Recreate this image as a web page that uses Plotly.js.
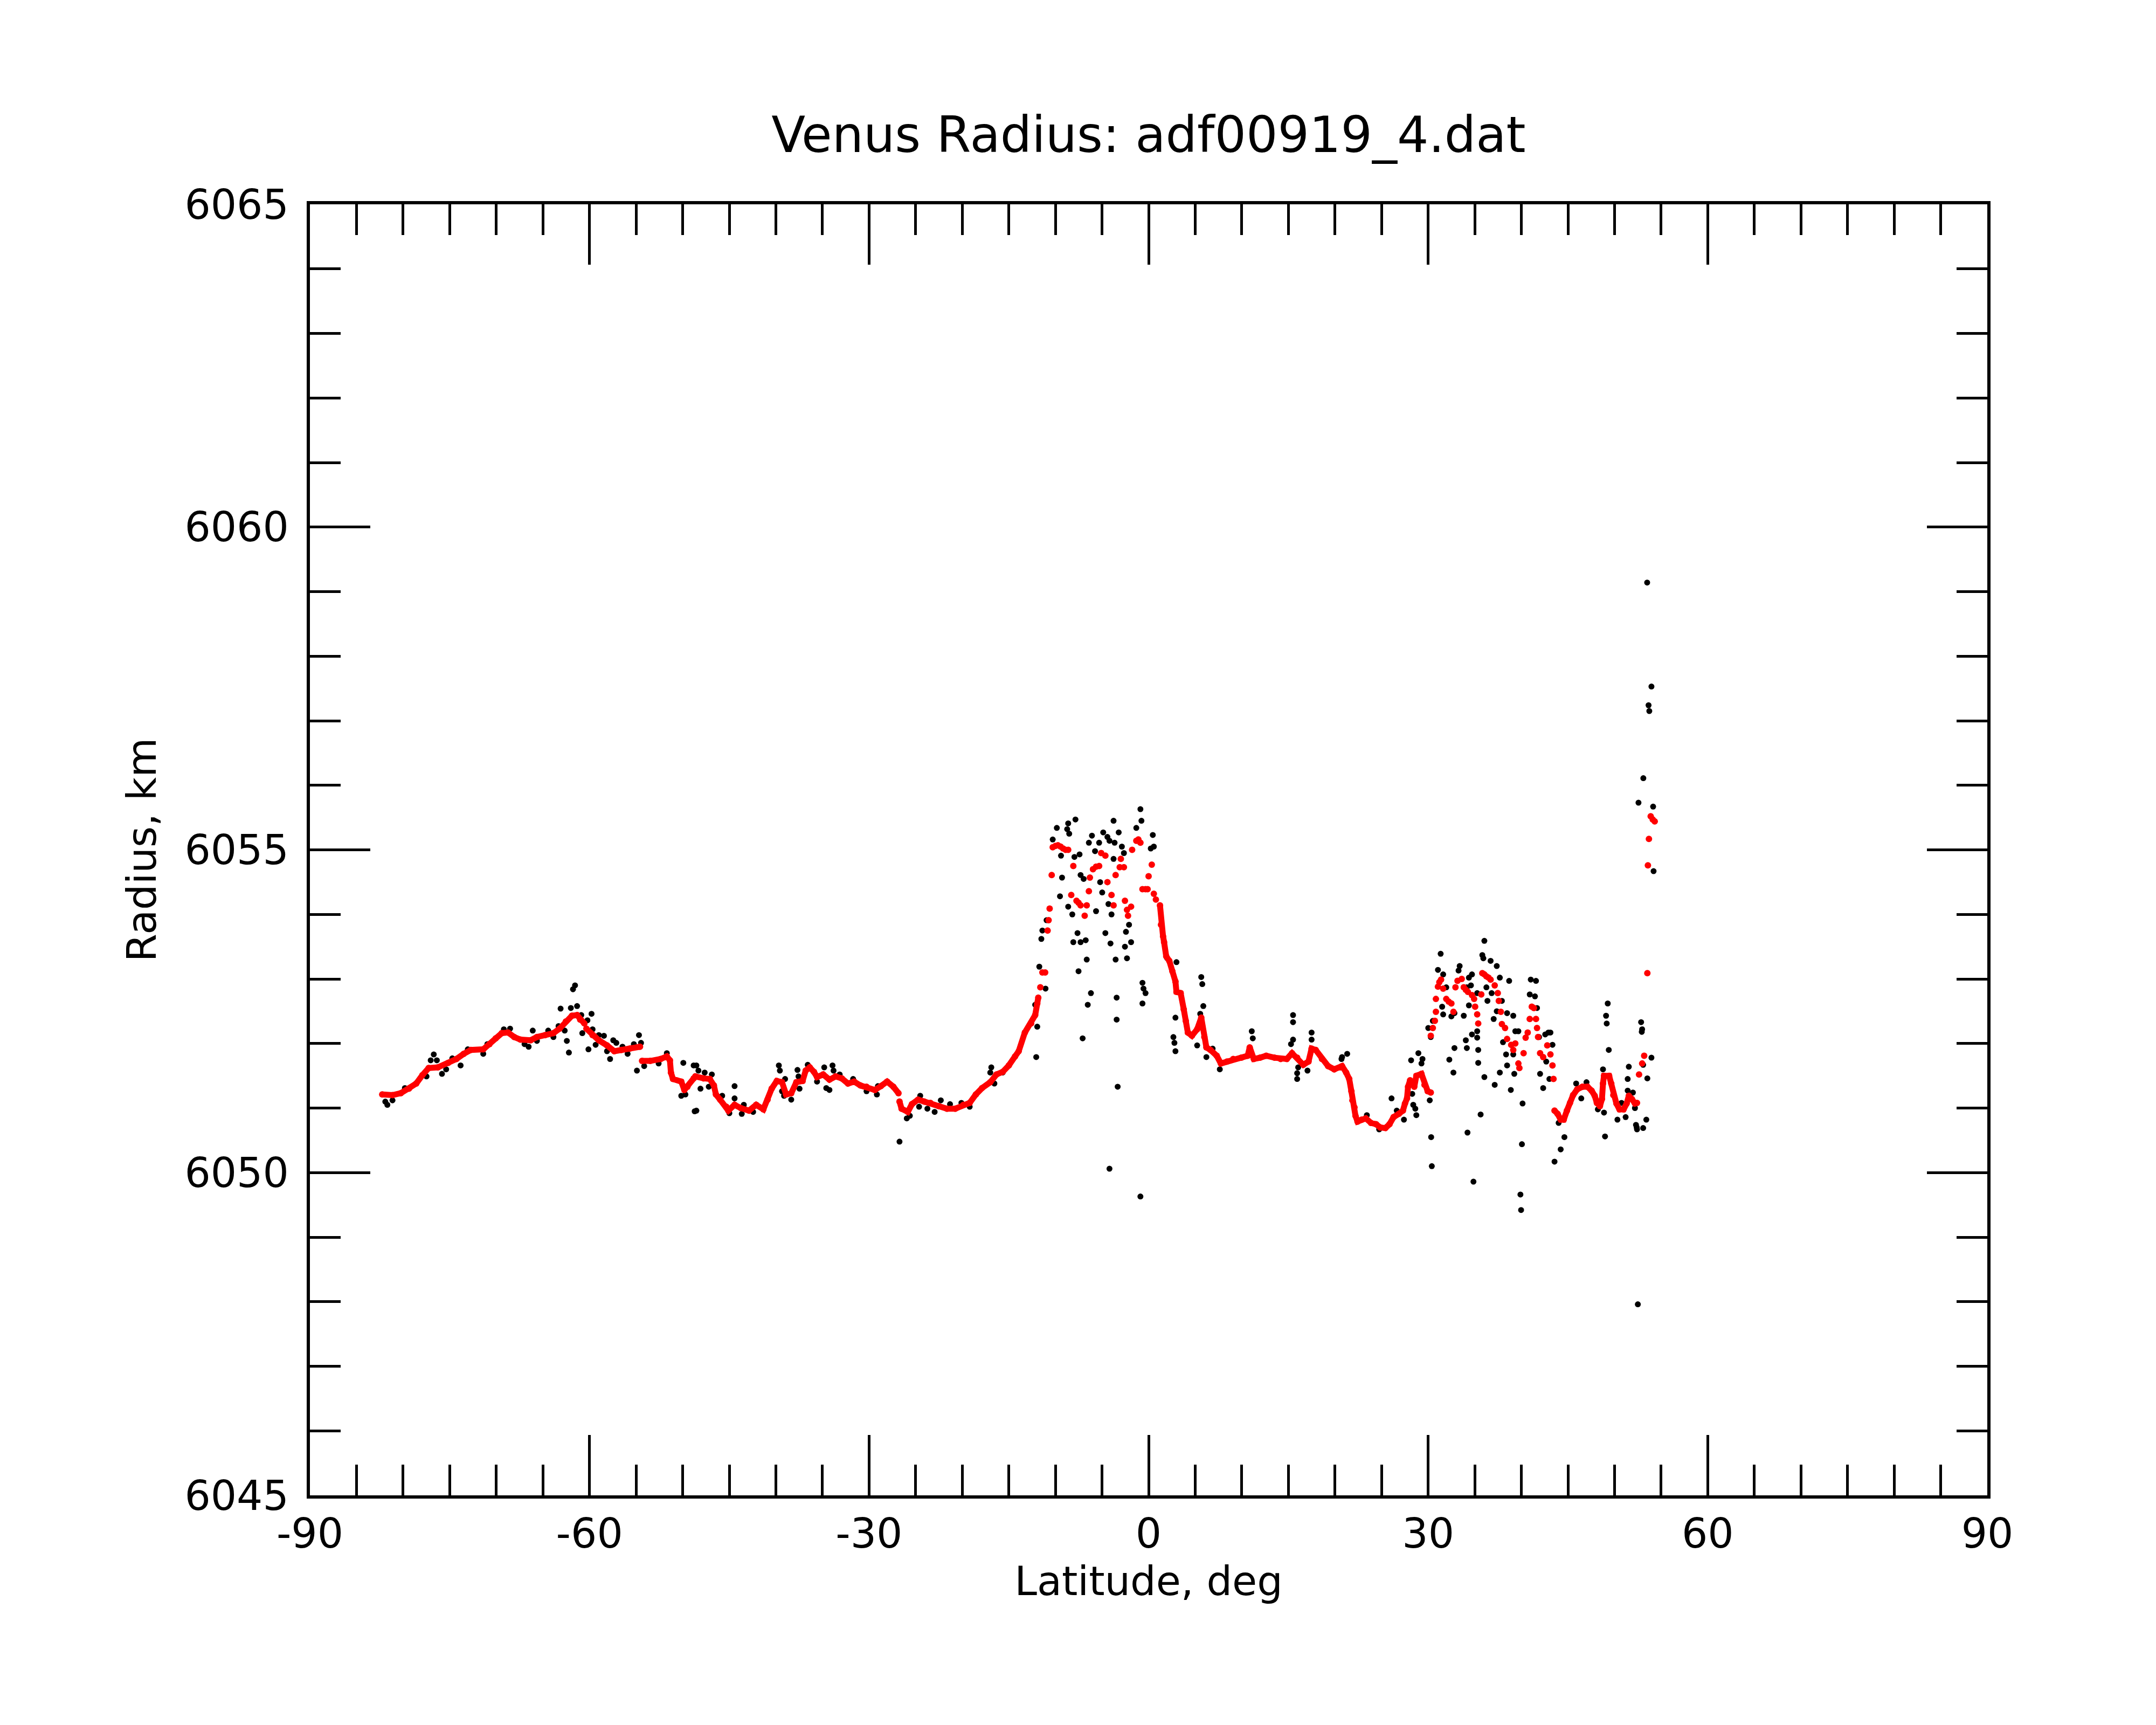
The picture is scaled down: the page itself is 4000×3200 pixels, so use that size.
<!DOCTYPE html>
<html>
<head>
<meta charset="utf-8">
<script src="https://cdn.plot.ly/plotly-3.0.1.min.js"></script>
<style>
  html, body { margin: 0; padding: 0; background: #fff; }
  #chart { width: 4000px; height: 3200px; }
</style>
</head>
<body>
<div id="chart"></div>
<script>
// raw radius samples (black dots), latitude in deg, radius in km
var rawLat = [
  -81.91, -81.69, -81.14, -79.81, -77.49, -77.04, -76.71, -76.38, -75.83, -75.38,
  -74.72, -73.83, -73.06, -71.40, -70.96, -69.19, -68.52, -66.97, -66.53, -66.09,
  -65.64, -64.43, -63.87, -63.32, -63.10, -62.66, -62.43, -62.21, -62.00, -61.77,
  -61.55, -61.33, -60.88, -60.77, -60.22, -60.11, -59.78, -59.67, -59.34, -59.00,
  -58.45, -58.12, -57.79, -57.45, -57.12, -56.46, -55.91, -55.24, -54.91, -54.69,
  -54.47, -54.13, -52.58, -51.70, -50.15, -49.93, -49.71, -48.82, -48.71, -48.53,
  -48.53, -48.31, -48.09, -47.64, -47.20, -46.87, -45.76, -44.99, -44.43, -44.43,
  -43.66, -43.44, -42.44, -39.68, -39.57, -39.34, -39.12, -39.01, -38.35, -37.68,
  -37.57, -37.46, -36.58, -35.58, -34.81, -34.59, -34.25, -33.92, -33.81, -33.15,
  -31.71, -30.27, -29.16, -29.05, -26.73, -25.95, -25.62, -24.63, -24.51, -23.74,
  -22.96, -22.30, -21.31, -20.09, -19.20, -16.99, -16.88, -16.55, -15.66,
  -12.17, -12.06, -11.95, -11.73, -11.51, -11.40, -11.06, -10.95, -10.29, -9.85,
  -9.51, -9.40, -9.29, -8.74, -8.63, -8.63, -8.52, -8.19, -8.08, -7.96,
  -7.85, -7.63, -7.52, -7.41, -7.30, -7.30, -7.08, -6.97, -6.75, -6.64,
  -6.53, -6.41, -6.19, -6.08, -5.75, -5.64, -5.31, -5.20, -4.98, -4.87,
  -4.64, -4.42, -4.31, -4.20, -4.20, -4.09, -3.98, -3.76, -3.76, -3.65,
  -3.54, -3.43, -3.43, -3.32, -3.21, -2.87, -2.65, -2.54, -2.43, -2.32,
  -2.10, -1.88, -1.32, -0.88, -0.88, -0.77, -0.66, -0.66, -0.55, -0.33,
  0.23, 0.45, 0.56, 2.00, 2.66, 2.77, 2.88, 2.88, 2.88, 2.99,
  5.21, 5.54, 5.65, 5.76, 5.87, 6.20, 6.87, 7.64, 11.07, 11.18,
  15.28, 15.50, 15.50, 15.50, 15.94, 15.94, 16.05, 17.05, 17.49, 17.49,
  20.70, 20.76, 21.31, 23.42, 24.74, 26.07, 26.63, 27.40, 28.17, 28.29,
  28.40, 28.62, 28.73, 28.95, 29.28, 29.39, 30.01, 30.17, 30.28, 30.32,
  30.39, 30.50, 31.05, 31.34, 31.50, 31.61, 31.61, 31.94, 32.27, 32.49,
  32.71, 32.82, 32.82, 33.26, 33.38, 33.82, 34.04, 34.15, 34.15, 34.22,
  34.37, 34.37, 34.59, 34.70, 34.70, 34.86, 35.26, 35.26, 35.26, 35.37,
  35.37, 35.63, 35.81, 35.92, 36.03, 36.03, 36.25, 36.36, 36.70, 36.81,
  37.03, 37.14, 37.36, 37.36, 37.69, 37.69, 37.91, 38.03, 38.36, 38.47,
  38.47, 38.69, 38.87, 39.13, 39.13, 39.24, 39.35, 39.68, 39.90, 39.97,
  40.06, 40.13, 40.90, 41.01, 41.46, 41.57, 41.68, 41.90, 42.01, 42.34,
  42.56, 42.67, 42.90, 43.01, 43.12, 43.34, 43.56, 44.00, 44.22, 44.62,
  45.88, 46.43, 46.99, 48.21, 48.76, 48.87, 48.98, 49.09, 49.16, 49.27,
  49.38, 50.31, 50.75, 51.19, 51.41, 51.41, 51.53, 51.97, 52.19, 52.30,
  52.38, 52.41, 52.50, 52.57, 52.85, 52.92, 52.96, 53.07, 53.07, 53.09,
  53.41, 53.50, 53.52, 53.65, 53.73, 53.96, 53.96, 54.14, 54.19
];
var rawRadius = [
  6051.10, 6051.05, 6051.12, 6051.31, 6051.49, 6051.74, 6051.83, 6051.74, 6051.53, 6051.60,
  6051.77, 6051.66, 6051.91, 6051.84, 6051.99, 6052.22, 6052.23, 6051.99, 6051.95, 6052.20,
  6052.04, 6052.20, 6052.10, 6052.27, 6052.54, 6052.20, 6052.04, 6051.86, 6052.55, 6052.84,
  6052.90, 6052.58, 6052.44, 6052.16, 6052.36, 6051.91, 6052.46, 6052.22, 6051.98, 6052.13,
  6052.12, 6051.88, 6051.76, 6052.05, 6052.01, 6051.95, 6051.84, 6051.99, 6051.58, 6052.13,
  6052.01, 6051.65, 6051.69, 6051.85, 6051.19, 6051.70, 6051.21, 6051.66, 6050.95, 6051.66,
  6050.96, 6051.58, 6051.30, 6051.55, 6051.33, 6051.52, 6051.19, 6050.92, 6051.34, 6051.15,
  6050.91, 6051.05, 6050.94, 6051.66, 6051.58, 6051.26, 6051.19, 6051.45, 6051.13, 6051.59,
  6051.49, 6051.30, 6051.67, 6051.41, 6051.63, 6051.31, 6051.28, 6051.66, 6051.58, 6051.52,
  6051.45, 6051.26, 6051.21, 6051.34, 6050.48, 6050.84, 6050.88, 6051.02, 6051.19, 6050.99,
  6050.94, 6051.12, 6051.06, 6051.08, 6051.02, 6051.55, 6051.63, 6051.38, 6051.55,
  6052.60, 6051.79, 6052.26, 6053.19, 6053.62, 6053.75, 6052.85, 6053.91, 6055.16, 6055.34,
  6054.28, 6054.91, 6054.57, 6055.32, 6055.41, 6054.12, 6055.25, 6054.00, 6053.57, 6054.89,
  6055.47, 6053.71, 6053.12, 6054.93, 6054.61, 6053.57, 6052.08, 6054.55, 6053.60, 6053.30,
  6052.60, 6055.11, 6052.78, 6055.22, 6054.98, 6054.05, 6055.11, 6054.50, 6054.34, 6055.27,
  6053.71, 6055.20, 6054.16, 6055.14, 6050.06, 6053.55, 6054.00, 6055.45, 6054.86, 6055.11,
  6053.30, 6052.71, 6052.37, 6051.33, 6055.27, 6055.05, 6054.95, 6053.50, 6053.73, 6053.32,
  6053.84, 6053.57, 6055.34, 6055.63, 6049.63, 6055.45, 6052.94, 6052.62, 6052.85, 6052.78,
  6055.02, 6055.23, 6055.05, 6053.32, 6052.10, 6052.01, 6052.96, 6052.40, 6051.88, 6053.26,
  6051.97, 6052.46, 6053.03, 6052.92, 6052.58, 6051.79, 6051.92, 6051.60, 6052.19, 6052.08,
  6051.99, 6052.44, 6052.33, 6052.06, 6051.45, 6051.54, 6051.63, 6051.58, 6052.17, 6052.06,
  6051.76, 6051.79, 6051.84, 6050.89, 6050.67, 6051.15, 6050.96, 6050.82, 6051.74, 6051.22,
  6051.05, 6050.99, 6050.89, 6051.85, 6051.69, 6051.76, 6052.24, 6051.12, 6052.10, 6050.55,
  6050.10, 6052.35, 6053.14, 6053.39, 6052.57, 6053.07, 6052.45, 6052.87, 6051.75, 6052.42,
  6051.55, 6052.47, 6051.93, 6053.13, 6053.20, 6052.43, 6052.05, 6052.87, 6051.93, 6050.62,
  6053.02, 6052.59, 6052.90, 6053.07, 6052.14, 6049.86, 6052.78, 6052.19, 6052.09, 6051.90,
  6051.70, 6050.90, 6053.37, 6053.32, 6053.59, 6051.48, 6052.87, 6052.66, 6053.28, 6052.78,
  6052.38, 6051.36, 6053.20, 6052.50, 6053.02, 6051.55, 6052.66, 6052.02, 6051.83, 6052.47,
  6051.66, 6052.97, 6051.28, 6052.43, 6051.83, 6051.53, 6052.19, 6052.19, 6049.66, 6049.42,
  6050.44, 6051.07, 6052.76, 6052.99, 6052.73, 6052.97, 6052.55, 6052.10, 6051.53, 6051.31,
  6052.14, 6051.72, 6052.17, 6051.45, 6052.17, 6051.98, 6050.17, 6050.77, 6050.36, 6050.55,
  6051.38, 6051.15, 6051.40, 6050.98, 6051.60, 6050.93, 6050.56, 6052.43, 6052.31, 6052.62,
  6051.90, 6050.82, 6051.08, 6050.86, 6051.45, 6051.27, 6051.64, 6051.24, 6051.00, 6050.74,
  6050.70, 6050.67, 6047.96, 6055.73, 6052.33, 6052.18, 6052.22, 6050.69, 6051.67, 6056.11,
  6050.82, 6059.14, 6051.46, 6057.24, 6057.15, 6051.78, 6057.53, 6055.67, 6054.67
];

// smoothed radius, continuous stretches (null = gap in the track)
var fitLat = [
  -82.24, -81.14, -80.25, -79.37, -78.59, -77.93, -77.26, -76.27, -75.16, -74.28,
  -73.50, -72.73, -71.40, -70.73, -70.07, -69.41, -68.74, -68.08, -67.41, -66.31,
  -65.64, -64.76, -63.87, -63.21, -62.54, -61.88, -61.33, -61.00, -60.55, null,
  -60.33, -59.67, -59.00, -58.12, -57.34, -56.57, -55.68, -54.58, null,
  -54.36, -53.47, -52.36, -51.70, -51.37, -51.26, -51.04, -50.15, -49.82, -49.49,
  -48.82, -48.64, -47.75, -47.09, -46.65, -46.43, -45.98, -45.32, -45.10, -44.43,
  -43.77, -42.89, -42.11, -41.34, -40.89, -40.45, -39.90, -39.34, -38.90, -38.35,
  -37.80, -37.13, -36.80, -36.36, -35.91, -35.58, -34.92, -34.25, -33.59, -32.93,
  -32.26, -31.60, -30.93, -30.27, -29.38, -28.72, -28.06, -27.39, -26.84, null,
  -26.73, -26.51, -25.84, -25.40, -24.74, -24.07, -23.41, -22.52, -21.64, -20.75,
  -19.87, -19.20, -18.54, -17.87, -16.99, -16.33, -15.66, -15.00, -14.33, -13.94,
  -13.28, -12.61, -12.17, -11.95, -11.84, null,
  1.22, 1.33, 1.55, 1.66, 1.89, 2.22, 2.55, 2.88, 2.99, 3.44,
  3.77, 3.99, 4.21, 4.65, 5.21, 5.65, 5.98, 6.20, 6.64, 7.31,
  7.75, 8.41, 9.08, 9.96, 10.63, 10.85, 11.29, 11.96, 12.62, 13.51,
  14.17, 14.83, 15.39, 15.94, 16.60, 17.16, 17.49, 17.93, 18.60, 19.26,
  19.92, 20.59, 20.76, 21.20, 21.53, 21.76, 21.87, 22.09, 22.20, 22.42,
  22.86, 23.31, 23.86, 24.41, 24.85, 25.41, 25.85, 26.29, 26.85, 27.29,
  27.51, 27.73, 27.84, 28.06, 28.51, 28.73, 29.28, 29.61, 29.95, 30.28, null,
  43.56, 43.89, 44.22, 44.55, 44.89, 45.22, 45.55, 45.99, 46.55, 47.10,
  47.54, 47.87, 48.10, 48.43, 48.65, 48.76, 48.87, 49.42, 49.65, 49.87,
  50.20, 50.53, 50.97, 51.30, 51.53, 51.86, 52.19, 52.41
];
var fitRadius = [
  6051.21, 6051.20, 6051.23, 6051.30, 6051.38, 6051.51, 6051.62, 6051.63, 6051.70, 6051.76,
  6051.84, 6051.90, 6051.91, 6051.99, 6052.08, 6052.16, 6052.17, 6052.10, 6052.06, 6052.05,
  6052.10, 6052.13, 6052.16, 6052.23, 6052.34, 6052.43, 6052.44, 6052.37, 6052.31, null,
  6052.23, 6052.13, 6052.05, 6051.97, 6051.88, 6051.90, 6051.92, 6051.95, null,
  6051.73, 6051.73, 6051.76, 6051.80, 6051.74, 6051.55, 6051.45, 6051.41, 6051.28, 6051.33,
  6051.46, 6051.49, 6051.46, 6051.45, 6051.35, 6051.21, 6051.13, 6051.02, 6050.96, 6051.05,
  6051.00, 6050.96, 6051.05, 6050.98, 6051.13, 6051.30, 6051.42, 6051.40, 6051.21, 6051.23,
  6051.40, 6051.42, 6051.58, 6051.63, 6051.56, 6051.48, 6051.52, 6051.44, 6051.49, 6051.46,
  6051.38, 6051.41, 6051.35, 6051.33, 6051.28, 6051.34, 6051.41, 6051.33, 6051.23, null,
  6051.10, 6050.99, 6050.94, 6051.06, 6051.13, 6051.10, 6051.08, 6051.03, 6050.99, 6050.99,
  6051.05, 6051.08, 6051.21, 6051.31, 6051.40, 6051.52, 6051.56, 6051.66, 6051.80, 6051.88,
  6052.17, 6052.31, 6052.44, 6052.62, 6052.71, null,
  6054.14, 6053.84, 6053.66, 6053.57, 6053.35, 6053.28, 6053.12, 6052.96, 6052.80, 6052.78,
  6052.53, 6052.35, 6052.17, 6052.12, 6052.22, 6052.40, 6052.10, 6051.94, 6051.90, 6051.81,
  6051.69, 6051.72, 6051.76, 6051.78, 6051.81, 6051.94, 6051.76, 6051.78, 6051.81, 6051.78,
  6051.76, 6051.76, 6051.85, 6051.78, 6051.67, 6051.72, 6051.92, 6051.90, 6051.76, 6051.65,
  6051.60, 6051.63, 6051.65, 6051.55, 6051.45, 6051.26, 6051.12, 6051.01, 6050.88, 6050.79,
  6050.82, 6050.84, 6050.77, 6050.75, 6050.70, 6050.69, 6050.75, 6050.86, 6050.91, 6050.96,
  6051.07, 6051.15, 6051.33, 6051.43, 6051.33, 6051.50, 6051.53, 6051.36, 6051.26, 6051.24, null,
  6050.96, 6050.91, 6050.82, 6050.82, 6050.96, 6051.08, 6051.20, 6051.29, 6051.33, 6051.33,
  6051.27, 6051.19, 6051.08, 6051.03, 6051.14, 6051.38, 6051.50, 6051.50, 6051.38, 6051.20,
  6051.07, 6050.98, 6050.98, 6051.07, 6051.19, 6051.14, 6051.07, 6051.08
];

// smoothed radius where the track breaks up into short pieces
var fitPtLat = [
  -11.62, -11.40, -11.10, -10.84, -10.73, -10.62, -10.40, -10.29, -10.00, -9.73,
  -9.45, -9.18, -8.90, -8.63, -8.08, -8.30, -7.74, -7.52, -7.30, -6.64,
  -6.86, -6.41, -6.30, -5.97, -5.64, -5.31, -5.09, -4.64, -4.42, -3.98,
  -3.76, -3.54, -3.10, -2.98, -2.65, -2.54, -2.32, -2.21, -1.88, -1.77,
  -1.32, -1.10, -0.88, -0.66, -0.33, -0.11, 0.00, 0.34, 0.56, 0.78,
  30.28, 30.50, 30.72, 30.83, 30.83, 31.05, 31.20, 31.38, 31.61, 31.94,
  32.20, 32.49, 32.71, 32.93, 33.15, 33.60, 33.82, 34.05, 34.26, 34.70,
  34.93, 35.04, 35.26, 35.37, 35.70, 35.81, 36.03, 36.25, 36.47, 36.70,
  37.14, 37.47, 37.58, 37.80, 37.91, 38.25, 38.47, 38.91, 39.13, 39.35,
  39.68, 39.79, 40.24, 40.46, 40.68, 40.90, 41.12, 41.35, 41.57, 41.68,
  41.79, 42.01, 42.34, 42.78, 43.12, 43.34, 43.45,
  52.63, 52.96, 53.18, 53.52, 53.58, 53.69, 53.88, 54.10, 54.31
];
var fitPtRadius = [
  6052.87, 6053.10, 6053.10, 6053.75, 6053.91, 6054.09, 6054.61, 6055.04, 6055.06, 6055.07,
  6055.05, 6055.02, 6055.00, 6055.00, 6054.75, 6054.30, 6054.21, 6054.18, 6054.14, 6054.14,
  6053.98, 6054.36, 6054.57, 6054.70, 6054.74, 6054.75, 6054.95, 6054.91, 6054.50, 6054.30,
  6054.14, 6054.61, 6054.73, 6054.86, 6054.73, 6054.21, 6054.07, 6053.98, 6054.12, 6055.00,
  6055.14, 6055.16, 6055.11, 6054.39, 6054.39, 6054.39, 6054.59, 6054.77, 6054.32, 6054.23,
  6052.12, 6052.24, 6052.35, 6052.49, 6052.69, 6052.88, 6052.95, 6052.99, 6052.85, 6052.69,
  6052.65, 6052.62, 6052.49, 6052.87, 6052.97, 6053.00, 6052.87, 6052.83, 6052.80, 6052.75,
  6052.69, 6052.57, 6052.45, 6052.31, 6052.76, 6053.09, 6053.07, 6053.04, 6053.02, 6052.99,
  6052.90, 6052.78, 6052.66, 6052.49, 6052.30, 6052.24, 6052.07, 6051.98, 6051.90, 6052.00,
  6051.69, 6051.62, 6051.85, 6052.09, 6052.17, 6052.38, 6052.57, 6052.55, 6052.38, 6052.24,
  6052.10, 6051.85, 6051.79, 6051.97, 6051.83, 6051.66, 6051.45,
  6051.52, 6051.69, 6051.81, 6053.09, 6054.76, 6055.17, 6055.52, 6055.47, 6055.44
];

var xTickVals = [-90, -60, -30, 0, 30, 60, 90];
var xTickText = ['-90', '-60', '-30', '0', '30', '60', '90'];

var FONT = 'DejaVu Sans, Liberation Sans, sans-serif';

var traces = [
  {
    x: rawLat, y: rawRadius,
    type: 'scatter', mode: 'markers',
    marker: { color: '#000000', size: 11 },
    hoverinfo: 'skip'
  },
  {
    x: fitLat, y: fitRadius,
    type: 'scatter', mode: 'lines+markers',
    connectgaps: false,
    line: { color: '#ff0000', width: 11 },
    marker: { color: '#ff0000', size: 12 }
  },
  {
    x: fitPtLat, y: fitPtRadius,
    type: 'scatter', mode: 'markers',
    marker: { color: '#ff0000', size: 12 }
  }
];

var axisCommon = {
  showline: true, linecolor: '#000', linewidth: 6,
  mirror: 'allticks',
  ticks: 'inside', ticklen: 112, tickwidth: 5, tickcolor: '#000',
  showgrid: false, zeroline: false,
  tickfont: { family: FONT, size: 76, color: '#000' },
  fixedrange: true
};

var layout = {
  width: 4000, height: 3200,
  paper_bgcolor: '#fff', plot_bgcolor: '#fff',
  showlegend: false,
  margin: { l: 575, r: 313, t: 379, b: 426 },
  font: { family: FONT, color: '#000' },
  title: {
    text: 'Venus Radius: adf00919_4.dat',
    font: { family: FONT, size: 92, color: '#000' },
    x: 0.5, xref: 'paper',
    y: 1 - 250 / 3200, yref: 'container', yanchor: 'middle'
  },
  xaxis: Object.assign({}, axisCommon, {
    range: [-90, 90],
    tickmode: 'array', tickvals: xTickVals, ticktext: xTickText,
    minor: { ticks: 'inside', ticklen: 57, tickwidth: 5, tickcolor: '#000', dtick: 5, tick0: -90, showgrid: false },
    title: { text: 'Latitude, deg', font: { family: FONT, size: 75, color: '#000' }, standoff: 0 },
    automargin: true
  }),
  yaxis: Object.assign({}, axisCommon, {
    range: [6045, 6065],
    tick0: 6045, dtick: 5,
    ticklabelstandoff: 18,
    minor: { ticks: 'inside', ticklen: 57, tickwidth: 5, tickcolor: '#000', dtick: 1, showgrid: false },
    title: { text: 'Radius, km', font: { family: FONT, size: 75, color: '#000' }, standoff: 30 },
    automargin: true
  })
};

Plotly.newPlot('chart', traces, layout, { staticPlot: true, displayModeBar: false });
</script>
</body>
</html>
